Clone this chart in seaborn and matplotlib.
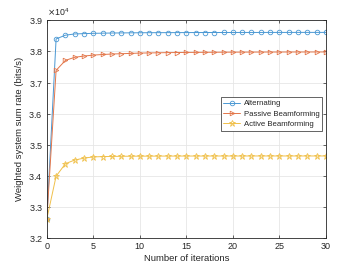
import numpy as np
import pandas as pd
import matplotlib
matplotlib.use("Agg")
import matplotlib.pyplot as plt
import matplotlib.ticker as mticker
import seaborn as sns

iterations = list(range(31))
alternating = [32600, 38400, 38520, 38560, 38570, 38580, 38585, 38590, 38593, 38596,
               38598, 38600, 38601, 38602, 38603, 38604, 38605, 38606, 38606, 38607,
               38607, 38608, 38608, 38608, 38609, 38609, 38609, 38610, 38610, 38610, 38610]
passive = [32600, 37390, 37710, 37810, 37850, 37880, 37900, 37915, 37925, 37935,
           37945, 37950, 37955, 37960, 37963, 37966, 37968, 37970, 37972, 37974,
           37975, 37976, 37977, 37978, 37979, 37979, 37980, 37980, 37980, 37981, 37981]
active = [32610, 33990, 34390, 34510, 34570, 34610, 34620, 34625, 34630, 34632,
          34634, 34635, 34636, 34637, 34637, 34638, 34638, 34638, 34639, 34639,
          34639, 34639, 34640, 34640, 34640, 34640, 34640, 34640, 34640, 34640, 34640]
labels = ["Alternating", "Passive Beamforming", "Active Beamforming"]
colors = ["#4a98d3", "#e3764a", "#f0c04a"]
markers = ["o", ">", "*"]

df = pd.DataFrame({
    "iter": iterations * 3,
    "rate": alternating + passive + active,
    "method": [labels[0]] * 31 + [labels[1]] * 31 + [labels[2]] * 31,
})

sns.set_theme(style="whitegrid")
plt.rcParams["font.family"] = ["Liberation Sans", "DejaVu Sans"]

fig, ax = plt.subplots(figsize=(3.6, 2.7), dpi=100)
fig.subplots_adjust(left=0.13, right=0.905, top=0.925, bottom=0.118)

for lab, col, mk in zip(labels, colors, markers):
    sub = df[df["method"] == lab]
    sns.lineplot(data=sub, x="iter", y="rate", ax=ax, color=col, linewidth=0.7,
                 marker=mk, markersize=3.3 if mk != "*" else 4.5,
                 markerfacecolor="none", markeredgecolor=col, markeredgewidth=0.6,
                 label=lab)

ax.set_xlim(0, 30)
ax.set_ylim(32000, 39000)
ax.set_xticks([0, 5, 10, 15, 20, 25, 30])
ax.set_yticks(np.arange(32000, 39001, 1000))
fmt = mticker.ScalarFormatter(useMathText=True)
fmt.set_powerlimits((0, 0))
ax.yaxis.set_major_formatter(fmt)
ax.yaxis.get_offset_text().set_fontsize(6.3)
ax.yaxis.get_offset_text().set_color("#262626")

ax.set_xlabel("Number of iterations", fontsize=6.8, color="#262626", labelpad=2)
ax.set_ylabel("Weighted system sum rate (bits/s)", fontsize=6.8, color="#262626", labelpad=3)
ax.tick_params(labelsize=6.5, colors="#262626", direction="in", length=2.5, width=0.5,
               top=True, right=True, bottom=True, left=True, pad=3)
ax.grid(True, color="#e6e6e6", linewidth=0.6)
for s in ax.spines.values():
    s.set_color("#262626")
    s.set_linewidth(0.6)
ax.set_facecolor("white")

leg = ax.legend(loc="center right", bbox_to_anchor=(0.995, 0.57), fontsize=5.6,
                frameon=True, fancybox=False, edgecolor="#262626", framealpha=1,
                borderpad=0.35, labelspacing=0.35, handlelength=2.2, handletextpad=0.4,
                borderaxespad=0.3)
leg.get_frame().set_linewidth(0.5)

fig.savefig("out.png", dpi=100)
